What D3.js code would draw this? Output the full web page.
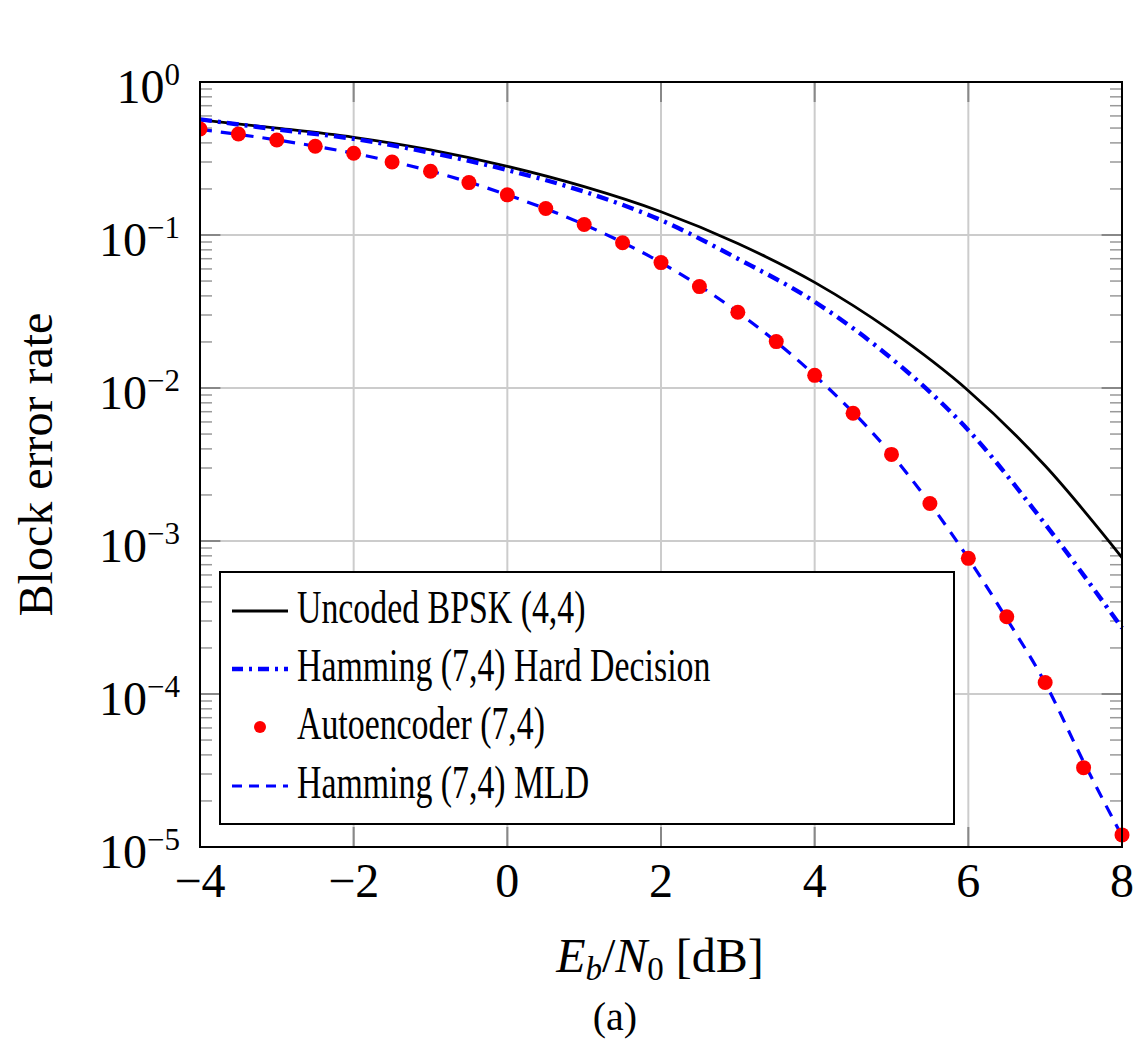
<!DOCTYPE html>
<html>
<head>
<meta charset="utf-8">
<script src="https://cdn.jsdelivr.net/npm/d3@7"></script>
<style>
  body { margin: 0; background: #fff; }
  text { font-family: "Liberation Serif", "DejaVu Serif", serif; fill: #000; }
</style>
</head>
<body>
<div id="chart"></div>
<script>
// values
var snrBpsk = [-4, -3, -2, -1, 0, 1, 2, 3, 4, 5, 6, 7, 8];
var blerBpsk = [0.565, 0.50, 0.435, 0.36, 0.281, 0.207, 0.142, 0.088, 0.049, 0.0235, 0.0096, 0.0031, 0.00078];

var snrHard = [-4, -3, -2, -1, 0, 1, 2, 3, 4, 5, 6, 7, 8];
var blerHard = [0.57, 0.49, 0.425, 0.345, 0.266, 0.192, 0.125, 0.070, 0.0366, 0.0156, 0.0053, 0.00129, 0.00027];

var snrAuto = [-4, -3.5, -3, -2.5, -2, -1.5, -1, -0.5, 0, 0.5, 1, 1.5, 2, 2.5, 3, 3.5, 4, 4.5, 5, 5.5, 6, 6.5, 7, 7.5, 8];
var blerAuto = [0.493, 0.457, 0.418, 0.380, 0.342, 0.300, 0.261, 0.220, 0.183, 0.149, 0.117, 0.089, 0.066, 0.046, 0.0313,
                0.0201, 0.0121, 0.00684, 0.00368, 0.00176, 0.00077, 0.00032, 0.000119, 0.000033, 0.000012];

var snrMld = [-4, -3, -2, -1, 0, 1, 2, 3, 4, 5, 5.5, 6, 6.5, 7, 7.5, 8];
var blerMld = [0.49, 0.418, 0.342, 0.262, 0.183, 0.117, 0.066, 0.0313, 0.0121, 0.00368, 0.00176, 0.00077, 0.00031, 0.000118, 0.000036, 0.0000118];

var xTicks = [-4, -2, 0, 2, 4, 6, 8];
var yDecades = [0, -1, -2, -3, -4, -5];

var legendLabels = ["Uncoded BPSK (4,4)", "Hamming (7,4) Hard Decision", "Autoencoder (7,4)", "Hamming (7,4) MLD"];

var width = 1135, height = 1041;
// plot box ("top" is taken by window.top, so prefixed names)
var pLeft = 200, pRight = 1122, pTop = 82, pBottom = 847;

var svg = d3.select("#chart").append("svg")
	.attr("width", width)
	.attr("height", height);

var x = d3.scaleLinear().domain([-4, 8]).range([pLeft, pRight]);
var y = d3.scaleLog().domain([1e-5, 1]).range([pBottom, pTop]);

svg.append("clipPath").attr("id", "plotclip")
	.append("rect")
	.attr("x", pLeft).attr("y", pTop - 10)
	.attr("width", pRight - pLeft + 10).attr("height", pBottom - pTop + 20);

//grid
var grid = svg.append("g");
grid.selectAll(null)
	.data(xTicks.slice(1, -1))
	.enter().append("line")
	.attr("x1", d => x(d)).attr("x2", d => x(d))
	.attr("y1", pTop).attr("y2", pBottom)
	.attr("stroke", "#cccccc").attr("stroke-width", 2);
grid.selectAll(null)
	.data(yDecades.slice(1, -1))
	.enter().append("line")
	.attr("y1", d => y(Math.pow(10, d))).attr("y2", d => y(Math.pow(10, d)))
	.attr("x1", pLeft).attr("x2", pRight)
	.attr("stroke", "#cccccc").attr("stroke-width", 2);

//minor ticks on the log axis, both sides
var minors = [];
yDecades.slice(1).forEach(function(p) {
	for (var k = 2; k <= 9; k++) minors.push(k * Math.pow(10, p));
});
var ticks = svg.append("g");
[[pLeft, 12], [pRight, -12]].forEach(function(s) {
	ticks.selectAll(null)
		.data(minors)
		.enter().append("line")
		.attr("x1", s[0]).attr("x2", s[0] + s[1])
		.attr("y1", d => y(d)).attr("y2", d => y(d))
		.attr("stroke", "#999").attr("stroke-width", 1.5);
	ticks.selectAll(null)
		.data(yDecades)
		.enter().append("line")
		.attr("x1", s[0]).attr("x2", s[0] + s[1] * 1.7)
		.attr("y1", d => y(Math.pow(10, d))).attr("y2", d => y(Math.pow(10, d)))
		.attr("stroke", "#888").attr("stroke-width", 2);
});
[[pBottom, -20], [pTop, 20]].forEach(function(s) {
	ticks.selectAll(null)
		.data(xTicks)
		.enter().append("line")
		.attr("x1", d => x(d)).attr("x2", d => x(d))
		.attr("y1", s[0]).attr("y2", s[0] + s[1])
		.attr("stroke", "#888").attr("stroke-width", 2);
});

//curves
var plot = svg.append("g").attr("clip-path", "url(#plotclip)");
var line = d3.line()
	.x(d => x(d[0]))
	.y(d => y(d[1]))
	.curve(d3.curveMonotoneX);

plot.append("path")
	.datum(d3.zip(snrBpsk, blerBpsk))
	.attr("d", line)
	.attr("fill", "none").attr("stroke", "#000").attr("stroke-width", 2.8);

plot.append("path")
	.datum(d3.zip(snrHard, blerHard))
	.attr("d", line)
	.attr("fill", "none").attr("stroke", "#0000ff").attr("stroke-width", 4.4)
	.attr("stroke-dasharray", "12 6 3 6");

plot.append("path")
	.datum(d3.zip(snrMld, blerMld))
	.attr("d", line)
	.attr("fill", "none").attr("stroke", "#0000ff").attr("stroke-width", 3.2)
	.attr("stroke-dasharray", "12 9");

plot.selectAll("circle")
	.data(d3.zip(snrAuto, blerAuto))
	.enter().append("circle")
	.attr("cx", d => x(d[0]))
	.attr("cy", d => y(d[1]))
	.attr("r", 7.5)
	.attr("fill", "#ff0000");

//frame
svg.append("rect")
	.attr("x", pLeft).attr("y", pTop)
	.attr("width", pRight - pLeft).attr("height", pBottom - pTop)
	.attr("fill", "none").attr("stroke", "#000").attr("stroke-width", 2);

//tick labels
svg.selectAll(null)
	.data(xTicks)
	.enter().append("text")
	.attr("x", d => x(d))
	.attr("y", 897)
	.attr("text-anchor", "middle")
	.attr("font-size", 48)
	.text(d => d < 0 ? "\u2212" + Math.abs(d) : d);

var yt = svg.selectAll(null)
	.data(yDecades)
	.enter().append("text")
	.attr("x", 180)
	.attr("y", d => y(Math.pow(10, d)) + 21)
	.attr("text-anchor", "end")
	.attr("font-size", 48);
yt.append("tspan").text("10");
yt.append("tspan")
	.attr("dy", -18)
	.attr("font-size", 31)
	.text(d => d < 0 ? "\u2212" + Math.abs(d) : d);

//axis titles
svg.append("text")
	.attr("transform", "translate(52," + (pTop + pBottom) / 2 + ") rotate(-90)")
	.attr("text-anchor", "middle")
	.attr("font-size", 48)
	.text("Block error rate");

var xl = svg.append("text")
	.attr("x", 660).attr("y", 972)
	.attr("text-anchor", "middle")
	.attr("font-size", 48);
xl.append("tspan").attr("font-style", "italic").text("E");
xl.append("tspan").attr("font-style", "italic").attr("font-size", 33).attr("dy", 8).text("b");
xl.append("tspan").attr("dy", -8).text("/");
xl.append("tspan").attr("font-style", "italic").text("N");
xl.append("tspan").attr("font-size", 33).attr("dy", 8).text("0");
xl.append("tspan").attr("dy", -8).text(" [dB]");

svg.append("text")
	.attr("x", 615).attr("y", 1030)
	.attr("text-anchor", "middle")
	.attr("font-size", 40)
	.text("(a)");

//legend
var legend = svg.append("g");
legend.append("rect")
	.attr("x", 220).attr("y", 572)
	.attr("width", 734).attr("height", 252)
	.attr("fill", "#fff").attr("stroke", "#000").attr("stroke-width", 2);

var rowY = [611, 669, 727, 786];
legend.append("line")
	.attr("x1", 232).attr("x2", 288).attr("y1", rowY[0]).attr("y2", rowY[0])
	.attr("stroke", "#000").attr("stroke-width", 2.8);
legend.append("line")
	.attr("x1", 232).attr("x2", 288).attr("y1", rowY[1]).attr("y2", rowY[1])
	.attr("stroke", "#0000ff").attr("stroke-width", 4.4).attr("stroke-dasharray", "11 6 3 6");
legend.append("circle")
	.attr("cx", 260).attr("cy", rowY[2]).attr("r", 6)
	.attr("fill", "#ff0000");
legend.append("line")
	.attr("x1", 232).attr("x2", 288).attr("y1", rowY[3]).attr("y2", rowY[3])
	.attr("stroke", "#0000ff").attr("stroke-width", 3.2).attr("stroke-dasharray", "10 7");

legend.selectAll("text")
	.data(legendLabels)
	.enter().append("text")
	.attr("transform", (d, i) => "translate(297," + (rowY[i] + 12) + ") scale(0.72,1)")
	.attr("font-size", 47)
	.text(d => d);
</script>
</body>
</html>
